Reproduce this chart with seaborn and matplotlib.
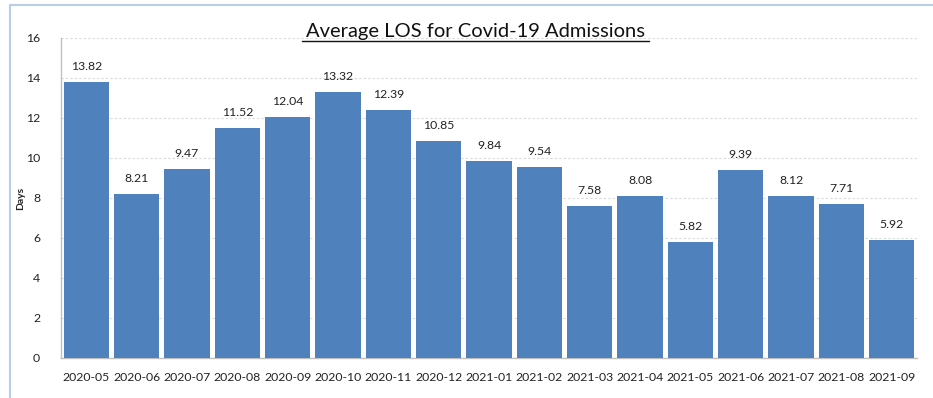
import matplotlib
matplotlib.use("Agg")
import matplotlib.pyplot as plt
from matplotlib.lines import Line2D
import seaborn as sns
import pandas as pd

months = ["2020-05", "2020-06", "2020-07", "2020-08", "2020-09", "2020-10",
          "2020-11", "2020-12", "2021-01", "2021-02", "2021-03", "2021-04",
          "2021-05", "2021-06", "2021-07", "2021-08", "2021-09"]
avg_los = [13.82, 8.21, 9.47, 11.52, 12.04, 13.32, 12.39, 10.85, 9.84, 9.54,
           7.58, 8.08, 5.82, 9.39, 8.12, 7.71, 5.92]
y_ticks = [0, 2, 4, 6, 8, 10, 12, 14, 16]

df = pd.DataFrame({"Month": months, "Days": avg_los})

sns.set_theme(style="white")
plt.rcParams["font.family"] = ["Lato", "DejaVu Sans"]

fig = plt.figure(figsize=(9.33, 3.98), dpi=100)
ax = fig.add_axes([61 / 933, 1 - 358 / 398, (917 - 61) / 933, (358 - 38) / 398])

sns.barplot(data=df, x="Month", y="Days", color="#4f81bd", width=0.9,
            saturation=1, edgecolor="none", ax=ax, zorder=3)

for i, v in enumerate(avg_los):
    ax.text(i, v + 0.5, f"{v:.2f}", ha="center", va="bottom",
            fontsize=8.8, color="#222222")

ax.set_ylim(0, 16)
ax.set_xlim(-0.5, len(months) - 0.5)
ax.set_yticks(y_ticks)
ax.yaxis.grid(True, color="#d9d9d9", linestyle=(0, (2, 2)), linewidth=0.8, zorder=0)
ax.set_axisbelow(True)

for side in ("top", "right"):
    ax.spines[side].set_visible(False)
for side in ("left", "bottom"):
    ax.spines[side].set_color("#bfbfbf")
    ax.spines[side].set_linewidth(1.0)

ax.set_xticks(range(len(months)))
ax.set_xticks([i - 0.5 for i in range(len(months) + 1)], minor=True)
ax.tick_params(axis="x", which="major", length=0, labelsize=8.8, pad=10, colors="#222222")
ax.tick_params(axis="x", which="minor", length=5, color="#bfbfbf", width=1, direction="out")
ax.tick_params(axis="y", length=5, color="#bfbfbf", width=1, direction="out",
               labelsize=8.8, pad=10, colors="#222222")
ax.tick_params(axis="both", labelcolor="#222222")

ax.set_xlabel("")
ax.set_ylabel("Days", fontsize=7.5, fontweight="bold", color="#222222")
ax.yaxis.set_label_coords((25 - 61) / 856, 0.5)

fig.text(475 / 933, 1 - 31 / 398, "Average LOS for Covid-19 Admissions",
         ha="center", va="center", fontsize=14.5, color="#111111")
fig.add_artist(Line2D([302 / 933, 649 / 933], [1 - 41 / 398, 1 - 41 / 398],
                      color="#111111", linewidth=1.0))

# outer chart frame
frame_color = "#b9cde5"
fig.add_artist(Line2D([10 / 933, 1.0], [1 - 5 / 398, 1 - 5 / 398], color=frame_color, linewidth=1.5))
fig.add_artist(Line2D([10 / 933, 10 / 933], [0.0, 1 - 5 / 398], color=frame_color, linewidth=1.5))

fig.savefig("out.png", dpi=100)
